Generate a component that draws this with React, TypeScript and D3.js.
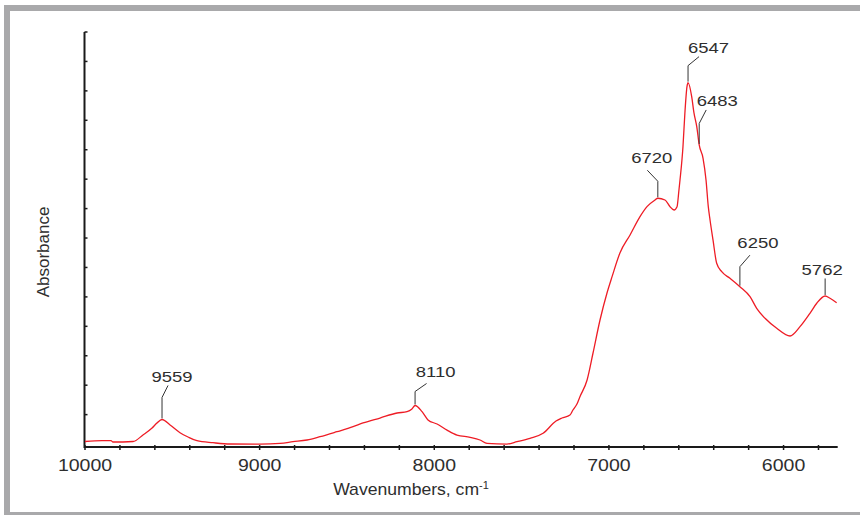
import React from "react";
import * as d3 from "d3";

// Spectrum (wavenumber, absorbance in arbitrary units)
const wavenumbers = [
  10000, 9903, 9851, 9840, 9725, 9668, 9616, 9588, 9559, 9513, 9456, 9410, 9359, 9267, 9170,
  8998, 8883, 8809, 8729, 8654, 8557, 8465, 8408, 8311, 8213, 8156, 8128, 8110, 8070, 8036,
  7984, 7927, 7870, 7795, 7738, 7698, 7584, 7526, 7452, 7377, 7303, 7269, 7223, 7206, 7183,
  7166, 7125, 7091, 7051, 7011, 6982, 6937, 6879, 6822, 6782, 6736, 6720, 6679, 6650, 6627,
  6610, 6599, 6593, 6576, 6565, 6553, 6547, 6526, 6513, 6497, 6483, 6461, 6444, 6431, 6421,
  6404, 6383, 6354, 6307, 6250, 6192, 6154, 6106, 6039, 5963, 5906, 5849, 5810, 5762, 5734,
  5696,
];
const absorbance = [
  0.087, 0.114, 0.114, 0.07, 0.087, 0.308, 0.546, 0.716, 0.835, 0.648, 0.386, 0.24, 0.114, 0.046, 0.002,
  0.0, 0.026, 0.08, 0.138, 0.25, 0.42, 0.59, 0.716, 0.885, 1.055, 1.1, 1.19, 1.31, 1.1, 0.82,
  0.68, 0.475, 0.305, 0.23, 0.138, 0.026, 0.0, 0.08, 0.196, 0.366, 0.784, 0.885, 0.987, 1.157, 1.36,
  1.609, 2.177, 3.094, 4.215, 5.133, 5.687, 6.492, 7.104, 7.726, 8.065, 8.293, 8.351, 8.293, 8.065, 7.953,
  8.065, 8.633, 8.972, 10.104, 11.249, 12.143, 12.279, 11.803, 11.249, 10.784, 10.162, 9.71, 8.972, 8.065, 7.613,
  6.934, 6.142, 5.857, 5.632, 5.347, 5.007, 4.613, 4.273, 3.933, 3.672, 3.988, 4.443, 4.783, 5.031, 4.953,
  4.803,
];

const xTickLabels = [10000, 9000, 8000, 7000, 6000];
const xMinorTicks = d3.range(10000, 5690, -200);
const yTicks = d3.range(1, 15, 1);
const peakLabels = [9559, 8110, 6720, 6547, 6483, 6250, 5762];

// leader-line layout per peak label: [vertical, diagDx, diagDy, labelDx, labelDy]
const leaderLayout: Record<number, number[]> = {
  9559: [22, 6, -34, 10, -37.5],
  8110: [14, 11.5, -22, 20.5, -29],
  6720: [17, -10.5, -28, -6, -35],
  6547: [17, 11, -26, 20.5, -29.5],
  6483: [21.5, 7, -35, 18, -39],
  6250: [20, 10, -31.5, 18, -38.5],
  5762: [17.5, 0, -17.5, -3, -21],
};

const W = 860;
const H = 515;
const FONT = "'Liberation Sans', Arial, Helvetica, sans-serif";

export default function App() {
  const x = d3.scaleLinear().domain([10000, 5690]).range([85, 837.7]);
  const y = d3.scaleLinear().domain([-0.1, 14]).range([447, 32]);

  const pts = wavenumbers.map((w, i) => [w, absorbance[i]] as [number, number]);
  const line = d3
    .line<[number, number]>()
    .x((d) => x(d[0]))
    .y((d) => y(d[1]))
    .curve(d3.curveMonotoneX);

  const valueAt = (w: number) => {
    const i = wavenumbers.indexOf(w);
    return absorbance[i];
  };

  const textColor = "#2e2e2e";

  return (
    <svg
      width={W}
      height={H}
      style={{ position: "absolute", left: 0, top: 0, background: "#fff" }}
      fontFamily={FONT}
    >
      {/* frame */}
      <rect x={7} y={8} width={900} height={507} fill="none" stroke="#a9a9ab" strokeWidth={6} />

      {/* y axis */}
      <line x1={84.5} x2={84.5} y1={y(14)} y2={y(-0.1) + 1} stroke="#1a1a1a" strokeWidth={2} />
      {yTicks.map((t) => (
        <line key={t} x1={84.5} x2={87.5} y1={y(t)} y2={y(t)} stroke="#1a1a1a" strokeWidth={1.5} />
      ))}

      {/* x axis */}
      <line x1={84} x2={837.7} y1={447} y2={447} stroke="#1a1a1a" strokeWidth={2} />
      {xMinorTicks.map((t) => (
        <line key={t} x1={x(t)} x2={x(t)} y1={445} y2={450} stroke="#1a1a1a" strokeWidth={1.5} />
      ))}
      {xTickLabels.map((t) => (
        <text
          key={t}
          transform={`translate(${x(t)},470.5) scale(1.22,1)`}
          textAnchor="middle"
          fontSize={16}
          fill={textColor}
        >
          {t}
        </text>
      ))}

      {/* axis titles */}
      <text
        transform="translate(411,495) scale(1.1,1)"
        textAnchor="middle"
        fontSize={16}
        fill={textColor}
      >
        Wavenumbers, cm<tspan dy={-6} fontSize={10}>-1</tspan>
      </text>
      <text
        transform="translate(49,252) rotate(-90)"
        textAnchor="middle"
        fontSize={17}
        fill={textColor}
      >
        Absorbance
      </text>

      {/* spectrum */}
      <path d={line(pts) || ""} fill="none" stroke="#ee1c25" strokeWidth={1.3} />

      {/* peak labels */}
      {peakLabels.map((w) => {
        const px = x(w);
        const py = y(valueAt(w));
        const [vl, ddx, ddy, ldx, ldy] = leaderLayout[w];
        return (
          <g key={w}>
            <polyline
              points={`${px},${py - 1} ${px},${py - vl} ${px + ddx},${py + ddy}`}
              fill="none"
              stroke="#333"
              strokeWidth={1}
            />
            <text
              transform={`translate(${px + ldx},${py + ldy}) scale(1.2,1)`}
              textAnchor="middle"
              fontSize={15.4}
              fill={textColor}
            >
              {w}
            </text>
          </g>
        );
      })}
    </svg>
  );
}
